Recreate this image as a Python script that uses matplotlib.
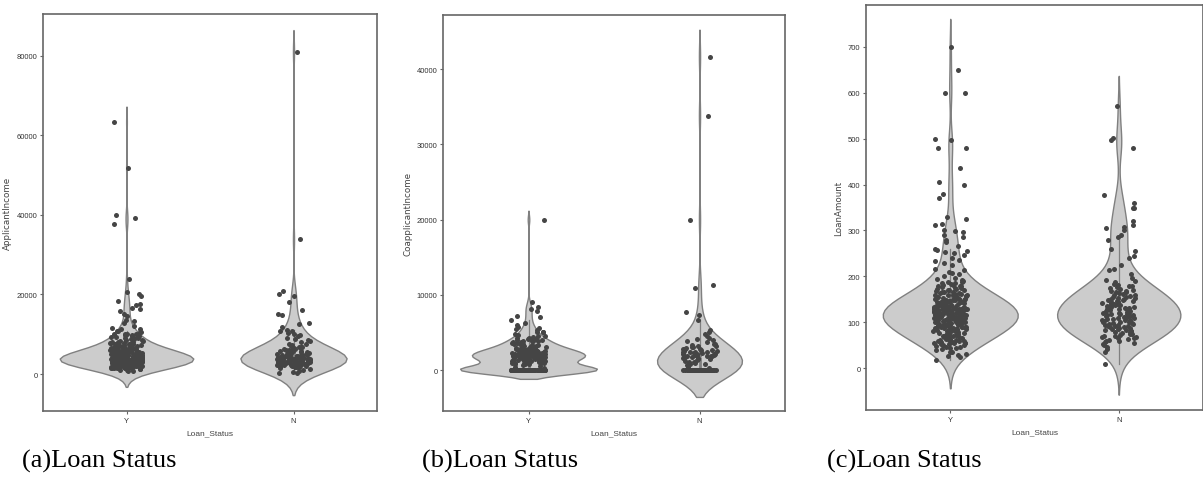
import numpy as np
import pandas as pd
import matplotlib
matplotlib.use("Agg")
import matplotlib.pyplot as plt
import seaborn as sns

status_order = ["Y", "N"]

# Applicant income by loan status
applicant_income_y = [
    645, 674, 1000, 1025, 1299, 1378, 1442, 1483, 1500, 1500,
    1538, 1600, 1625, 1668, 1759, 1800, 1811, 1820, 1828, 1853, 1875, 1880,
    1907, 1916, 1926, 1958, 1977, 2000, 2014, 2031, 2058, 2083, 2130, 2137,
    2149, 2178, 2221, 2237, 2275, 2301, 2333, 2366, 2400, 2425, 2483,
    2500, 2507, 2526, 2550, 2583, 2600, 2609, 2625, 2645, 2666, 2679, 2690,
    2708, 2717, 2720, 2750, 2764, 2785, 2799, 2833, 2840, 2860, 2873, 2895,
    2917, 2929, 2947, 2978, 2990, 3000, 3013, 3036, 3050, 3073, 3083, 3100,
    3125, 3155, 3167, 3173, 3180, 3200, 3210, 3229, 3244, 3250, 3276, 3300,
    3316, 3330, 3333, 3358, 3365, 3380, 3400, 3418, 3427, 3450, 3463, 3475,
    3497,
    3500, 3510, 3520, 3539, 3547, 3570, 3583, 3593, 3600, 3617, 3625, 3640,
    3652, 3667, 3680, 3691, 3708, 3717, 3730, 3750, 3762, 3786, 3800, 3812,
    3833, 3850, 3859, 3875, 3890, 3900, 3917, 3948, 3960, 3975, 4000, 4006,
    4020, 4050, 4083, 4095, 4106, 4120, 4140, 4166, 4188, 4200, 4230, 4250,
    4270, 4283, 4300, 4320, 4333, 4350, 4384, 4400, 4416, 4460, 4467,
    4500, 4530, 4547, 4583, 4600, 4616, 4650, 4666, 4683, 4708, 4720, 4750,
    4787, 4817, 4843, 4885, 4890, 4917, 4950, 4980, 5000, 5050, 5100, 5124,
    5167, 5185, 5210, 5250, 5266, 5316, 5333, 5380, 5391, 5417, 5468, 5500,
    5532, 5568, 5620, 5649, 5667, 5703, 5726, 5746, 5780, 5800, 5821, 5858,
    5935,
    6000, 6033, 6080, 6125, 6150, 6216, 6250, 6277, 6333, 6400, 6500, 6540,
    6600, 6633, 6700, 6783, 6822, 6875, 7000, 7050, 7085, 7167, 7200, 7333,
    7441, 7500, 7578, 7667, 7740, 7830, 7901, 7948,
    8000, 8072, 8200, 8333, 8566, 8624, 8750, 8799, 9000, 9166, 9323, 9328,
    9357, 9504, 9538, 9703, 9833, 9963,
    10000, 10047, 10171, 10408, 10513, 10750, 10833, 11250, 11417, 11500,
    12000, 12876, 13262, 13650, 14583, 15000, 15759, 16250, 16667, 17263,
    17500, 18333, 19730, 20233, 20667, 23803, 37719, 39147, 39999, 51763,
    63337,
]
applicant_income_n = [
    150, 210, 416, 645, 1025, 1299, 1500, 1668, 1759, 1800, 1828, 1875, 1926,
    1977, 2014, 2058, 2130, 2178, 2237, 2275, 2300, 2333, 2400, 2483, 2500,
    2583, 2600, 2645, 2666, 2700, 2708, 2750, 2785, 2833, 2875, 2900, 2917,
    2947, 3000, 3036, 3050, 3073, 3100, 3150, 3167, 3200, 3250, 3276, 3300,
    3333, 3365, 3400, 3450, 3459, 3500, 3547, 3593, 3600, 3617, 3667, 3717,
    3750, 3800, 3820, 3859, 3900, 3948, 3980, 4000, 4050, 4106, 4166, 4230,
    4250, 4283, 4333, 4400, 4467, 4500, 4547, 4600, 4666, 4700, 4750, 4800,
    4843, 4917, 5000, 5050, 5100, 5185, 5266, 5333, 5417, 5500, 5649, 5700,
    5726, 5800, 5935, 6045, 6133, 6250, 6300, 6400, 6500, 6700, 6875, 6900,
    7100, 7333, 7500, 7660, 8000, 8333, 8500, 8750, 9166, 9538, 9833,
    10000, 10408, 10750, 10833, 11146, 11757, 12500, 12841, 14880, 15000,
    16120, 18165, 19484, 20166, 20833, 33846, 81000,
]

# Co-applicant income by loan status (many applicants have no co-applicant)
coapplicant_zero_count_y = 80
coapplicant_income_y = [
    240, 461, 536, 700, 754, 800, 830, 900, 913, 959, 985, 990,
    1000, 1032, 1083, 1100, 1126, 1167, 1200, 1210, 1250, 1255, 1300, 1330,
    1375, 1400, 1411, 1430, 1451, 1459, 1500, 1500, 1526, 1560, 1587, 1600,
    1619, 1625, 1640, 1666, 1666, 1695, 1700, 1717, 1733, 1750, 1768, 1800,
    1800, 1820, 1843, 1863, 1875, 1900, 1917, 1925, 1950, 1960, 1983, 1990,
    1995, 1998,
    2000, 2000, 2004, 2016, 2035, 2054, 2083, 2100, 2115, 2134, 2160, 2166,
    2200, 2210, 2232, 2250, 2275, 2300, 2333, 2340, 2375, 2400, 2417, 2439,
    2451, 2500, 2500, 2524, 2531, 2569, 2583, 2600, 2625, 2666, 2700, 2739,
    2750, 2779, 2800, 2840, 2875, 2900, 2917, 2958,
    3000, 3021, 3053, 3083, 3136, 3166, 3200, 3237, 3250, 3300, 3333, 3400,
    3416, 3440, 3500, 3541, 3600, 3683, 3750, 3796, 3800, 3890, 3906, 3950,
    4000, 4083, 4167, 4196, 4250, 4300, 4416, 4486, 4583, 4648, 4750, 4996,
    5063, 5105, 5296, 5500, 5625, 5701,
    6000, 6250, 6666, 7101, 7210, 7873, 8106, 8333, 8980, 20000,
]
coapplicant_zero_count_n = 38
coapplicant_income_n = [
    242, 430, 696, 754, 800, 988, 1083, 1125, 1250, 1300, 1413, 1500, 1560,
    1600, 1666, 1700, 1750, 1800, 1840, 1875, 1917, 1950, 2000, 2035, 2083,
    2100, 2138, 2166, 2210, 2250, 2300, 2333, 2375, 2400, 2458, 2500, 2569,
    2625, 2666, 2750, 2800, 2857, 2917, 3000, 3033, 3136, 3250, 3333, 3440,
    3500, 3750, 3906, 4000, 4167, 4250, 4490, 4750, 5000, 5302, 6666, 7250,
    7750, 10968, 11300, 20000, 33837, 41667,
]

# Loan amount (thousands) by loan status
loan_amount_y = [
    17, 25, 26, 28, 30, 35, 36, 40, 42, 44, 45, 46, 47, 48, 50, 50, 52, 53,
    54, 55, 56, 56, 57, 58, 59, 59,
    60, 60, 61, 62, 62, 63, 64, 65, 66, 66, 67, 68, 70, 70, 70, 71, 72, 72,
    74, 75, 75, 76, 76, 78, 78, 80, 80, 80, 81, 81, 83, 84, 84, 85, 86, 86,
    87, 88, 88, 89, 89, 89,
    90, 90, 90, 91, 92, 93, 94, 94, 95, 95, 95, 96, 96, 97, 97, 98, 98, 99,
    99, 100, 100, 100, 100, 100, 101, 102, 103, 103, 104, 104, 105, 105, 105,
    106, 106, 107, 107, 108, 108, 108, 109, 109, 109, 109,
    110, 110, 110, 110, 111, 111, 112, 112, 113, 113, 114, 114, 115, 115, 115,
    116, 116, 117, 117, 118, 118, 119, 119, 120, 120, 120, 120, 120, 120, 121,
    121, 122, 122, 123, 123, 124, 124, 125, 125, 125, 126, 126, 127, 127, 128,
    128, 128, 129, 129, 129,
    130, 130, 130, 130, 131, 131, 132, 132, 133, 133, 134, 134, 135, 135, 135,
    136, 137, 137, 138, 138, 139, 140, 140, 140, 141, 142, 143, 144, 144, 145,
    145, 146, 146, 147, 148, 148, 149, 149,
    150, 150, 150, 151, 152, 153, 154, 155, 155, 156, 157, 158, 159, 160, 160,
    160, 161, 162, 163, 164, 165, 166, 167, 168, 170, 170, 171, 172, 173, 175,
    175, 176, 178, 180, 180, 181, 182, 184, 185, 186, 187, 188, 190, 192, 194,
    197,
    201, 205, 208, 210, 214, 216, 225, 230, 234, 236, 240, 246, 250, 253, 255,
    258, 260, 267, 275, 280, 285, 290, 296, 298,
    300, 311, 315, 324, 330, 370, 380, 400, 405, 436, 480, 480, 496, 500, 600,
    600, 650, 700,
]
loan_amount_n = [
    9, 35, 42, 46,
    50, 52, 55, 57, 59,
    60, 62, 63, 65, 66, 68, 69,
    70, 71, 73, 74, 75, 76, 78, 79,
    80, 81, 83, 84, 85, 86, 87, 88, 89,
    90, 91, 92, 93, 94, 95, 96, 97, 98, 99,
    100, 100, 101, 103, 104, 105, 106, 107, 108, 109,
    110, 111, 112, 113, 114, 115, 116, 117, 118, 119,
    120, 120, 122, 123, 124, 125, 126, 127, 128, 129,
    130, 131, 132, 133, 134, 135, 136, 137, 138, 139,
    140, 141, 142, 144, 145, 146, 147, 148, 149,
    150, 151, 153, 154, 155, 156, 158, 159,
    160, 162, 163, 165, 166, 168, 169,
    170, 172, 175, 177, 178,
    180, 182, 184, 187,
    190, 193, 196,
    205, 214, 216, 225, 240, 245, 255, 260, 280, 286, 290,
    300, 305, 308, 311, 320, 350, 350, 360, 377, 480, 496, 502, 570,
]


def status_frame(column, y_values, n_values):
    return pd.DataFrame({
        "Loan_Status": ["Y"] * len(y_values) + ["N"] * len(n_values),
        column: list(y_values) + list(n_values),
    })


panels = [
    dict(df=status_frame("ApplicantIncome", applicant_income_y, applicant_income_n),
         col="ApplicantIncome", ylim=(-9300, 90500),
         yticks=[0, 20000, 40000, 60000, 80000], bw=0.92,
         rect=[43 / 1203, 1 - 412 / 481, 334 / 1203, 397 / 481],
         label_x=-0.092, caption="(a)Loan Status", cap_x=22 / 1203, seed=3),
    dict(df=status_frame("CoapplicantIncome",
                         [0] * coapplicant_zero_count_y + coapplicant_income_y,
                         [0] * coapplicant_zero_count_n + coapplicant_income_n),
         col="CoapplicantIncome", ylim=(-5450, 47200),
         yticks=[0, 10000, 20000, 30000, 40000], bw=0.8,
         rect=[443 / 1203, 1 - 412 / 481, 342 / 1203, 396 / 481],
         label_x=-0.09, caption="(b)Loan Status", cap_x=422 / 1203, seed=5),
    dict(df=status_frame("LoanAmount", loan_amount_y, loan_amount_n),
         col="LoanAmount", ylim=(-91, 791),
         yticks=[0, 100, 200, 300, 400, 500, 600, 700], bw=0.95,
         rect=[866 / 1203, 1 - 411 / 481, 337 / 1203, 405 / 481],
         label_x=-0.068, caption="(c)Loan Status", cap_x=827 / 1203, seed=7),
]

narrow = ["Liberation Sans Narrow", "Liberation Sans", "DejaVu Sans"]

fig = plt.figure(figsize=(12.03, 4.81), dpi=100)
for p in panels:
    ax = fig.add_axes(p["rect"])
    sns.violinplot(data=p["df"], x="Loan_Status", y=p["col"], order=status_order,
                   color=".8", linecolor="#808080", linewidth=1.0,
                   inner="box", inner_kws=dict(box_width=2.0, whis_width=0.9),
                   bw_adjust=p["bw"], ax=ax)
    np.random.seed(p["seed"])
    sns.stripplot(data=p["df"], x="Loan_Status", y=p["col"], order=status_order,
                  color="#454545", size=3.6, jitter=True, ax=ax)
    ax.set_xlim(-0.5, 1.5)
    ax.set_ylim(*p["ylim"])
    ax.set_yticks(p["yticks"])
    ax.set_xlabel("Loan_Status", fontsize=6, family=narrow, color="#444444")
    ax.set_ylabel(p["col"], fontsize=6.3, family="DejaVu Sans", color="#444444")
    ax.yaxis.set_label_coords(p["label_x"], 0.5)
    for lab in ax.get_xticklabels() + ax.get_yticklabels():
        lab.set_family(narrow)
        lab.set_fontstretch("condensed")
    ax.tick_params(labelsize=5.5, length=2, pad=2, color="#666666",
                   labelcolor="#333333")
    for s in ax.spines.values():
        s.set_color("#666666")
        s.set_linewidth(1.2)
    fig.text(p["cap_x"], 1 - 468 / 481, p["caption"], family="Liberation Serif",
             fontsize=19, va="baseline", ha="left")

fig.savefig("out.png", dpi=100)
